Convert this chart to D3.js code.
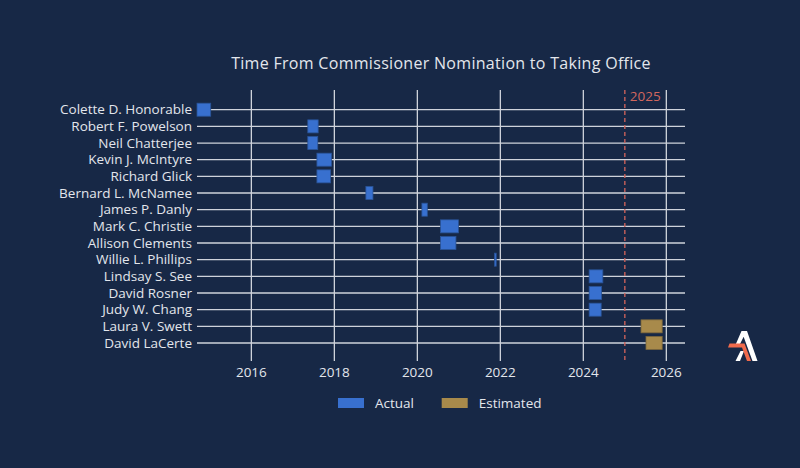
<!DOCTYPE html>
<html>
<head>
<meta charset="utf-8">
<script src="https://cdnjs.cloudflare.com/ajax/libs/d3/7.8.5/d3.min.js"></script>
<style>
  body { margin: 0; background: #172846; }
  svg { display: block; font-family: "Open Sans", sans-serif; }
</style>
</head>
<body>
<div class="chart-container"></div>
<script>
// commissioners, top to bottom
var names = ["Colette D. Honorable", "Robert F. Powelson", "Neil Chatterjee", "Kevin J. McIntyre",
    "Richard Glick", "Bernard L. McNamee", "James P. Danly", "Mark C. Christie", "Allison Clements",
    "Willie L. Phillips", "Lindsay S. See", "David Rosner", "Judy W. Chang", "Laura V. Swett", "David LaCerte"];
// nomination and taking office, as decimal years
var nominated = [2014.69, 2017.36, 2017.36, 2017.58, 2017.58, 2018.76, 2020.11, 2020.56, 2020.56,
    2021.86, 2024.14, 2024.14, 2024.14, 2025.39, 2025.51];
var tookOffice = [2015.02, 2017.61, 2017.60, 2017.93, 2017.91, 2018.93, 2020.24, 2020.99, 2020.93,
    2021.90, 2024.47, 2024.44, 2024.43, 2025.90, 2025.90];
var phase = ["Actual", "Actual", "Actual", "Actual", "Actual", "Actual", "Actual", "Actual", "Actual",
    "Actual", "Actual", "Actual", "Actual", "Estimated", "Estimated"];
var yearTicks = [2016, 2018, 2020, 2022, 2024, 2026];
var markerYear = 2025;
var legendKeys = ["Actual", "Estimated"];

var W = 800, H = 468;
var fill = { Actual: "#3870cf", Estimated: "#a88a4b" };
var edge = { Actual: "#2a5498", Estimated: "#7d683d" };
var textColor = "#e3e6ec";
var gridColor = "#cfd3db";

var svg = d3.select(".chart-container").append("svg")
    .attr("width", W)
    .attr("height", H);

svg.append("rect").attr("width", W).attr("height", H).attr("fill", "#172846");

var x = d3.scaleLinear().domain([2014.69, 2026.45]).range([197, 685]);
var y = d3.scalePoint().domain(names).range([109.7, 343]);
var plotTop = 90, plotBottom = 361;

// title
svg.append("text")
    .attr("x", 441).attr("y", 69)
    .attr("text-anchor", "middle")
    .attr("fill", textColor)
    .style("font-size", "16px")
    .style("letter-spacing", "0.3px")
    .text("Time From Commissioner Nomination to Taking Office");

// vertical grid
svg.append("g").selectAll("line").data(yearTicks).join("line")
    .attr("x1", d => x(d)).attr("x2", d => x(d))
    .attr("y1", plotTop).attr("y2", plotBottom)
    .attr("stroke", gridColor).attr("stroke-width", 1.3);

// horizontal grid per row
svg.append("g").selectAll("line").data(names).join("line")
    .attr("x1", x.range()[0]).attr("x2", x.range()[1])
    .attr("y1", d => y(d)).attr("y2", d => y(d))
    .attr("stroke", gridColor).attr("stroke-width", 1.3);

// 2025 marker
svg.append("line")
    .attr("x1", x(markerYear)).attr("x2", x(markerYear))
    .attr("y1", plotTop).attr("y2", plotBottom)
    .attr("stroke", "#c8615a").attr("stroke-width", 1.4)
    .attr("stroke-dasharray", "4,3");
svg.append("text")
    .attr("x", x(markerYear) + 5).attr("y", plotTop + 11)
    .attr("fill", "#d2675e")
    .style("font-size", "13.5px")
    .text(markerYear);

// bars
var bh = 13;
svg.append("g").selectAll("rect").data(names).join("rect")
    .attr("x", (d, i) => x(nominated[i]))
    .attr("width", (d, i) => Math.max(1.5, x(tookOffice[i]) - x(nominated[i])))
    .attr("y", d => y(d) - bh / 2)
    .attr("height", bh)
    .attr("fill", (d, i) => fill[phase[i]])
    .attr("stroke", (d, i) => edge[phase[i]])
    .attr("stroke-width", 0.8);

// y labels
svg.append("g").selectAll("text").data(names).join("text")
    .attr("x", 192).attr("y", d => y(d))
    .attr("dy", "0.35em")
    .attr("text-anchor", "end")
    .attr("fill", textColor)
    .style("font-size", "13.5px")
    .text(d => d);

// x labels
svg.append("g").selectAll("text").data(yearTicks).join("text")
    .attr("x", d => x(d)).attr("y", 372)
    .attr("dy", "0.35em")
    .attr("text-anchor", "middle")
    .attr("fill", textColor)
    .style("font-size", "13.5px")
    .text(d3.format("d"));

// legend
var legend = svg.append("g").selectAll("g").data(legendKeys).join("g")
    .attr("transform", (d, i) => "translate(" + [338, 441.7][i] + ",403)");
legend.append("rect")
    .attr("x", 0).attr("y", -5).attr("width", 26).attr("height", 10)
    .attr("fill", d => fill[d]);
legend.append("text")
    .attr("x", 37).attr("dy", "0.35em")
    .attr("fill", textColor)
    .style("font-size", "13.5px")
    .text(d => d);

// logo
var logo = svg.append("g");
logo.append("path")
    .attr("d", "M741.5,331 L747,331 L757.5,361 L752.5,361 Z M740.5,351 L744,351 L740,361 L735.5,361 Z M741.5,331 L744,336 L739,346 L735,346 Z")
    .attr("fill", "#ffffff");
logo.append("path")
    .attr("d", "M729.5,343.5 L744.5,343.5 L751,361 L747,361 L742,347.5 L728,347.5 Z")
    .attr("fill", "#ef6a4c");
</script>
</body>
</html>
